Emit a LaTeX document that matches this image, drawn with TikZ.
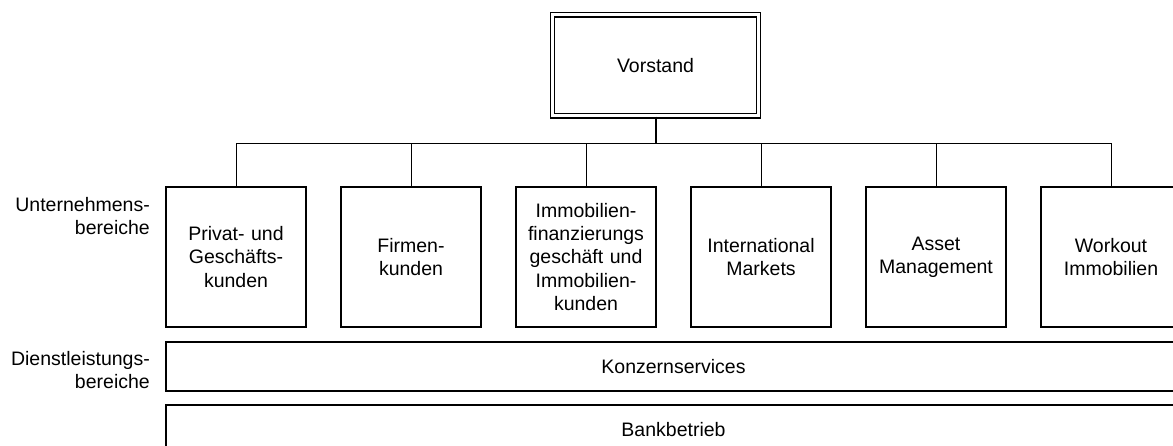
\documentclass[tikz,border=0pt]{standalone}
\usepackage{fontspec}
\setmainfont{Liberation Sans}
\begin{document}
\begin{tikzpicture}[x=1pt,y=-1pt,
  every node/.style={font=\fontsize{19.5}{23.3}\selectfont},
  unitbox/.style={draw,line width=1.2pt,minimum width=140pt,minimum height=140pt,
    inner sep=0pt,align=center,text width=136pt},
  headbox/.style={draw,double,double distance=3pt,line width=1.1pt,
    minimum width=206pt,minimum height=101pt,inner sep=0pt},
  barbox/.style={draw,line width=1.2pt,minimum width=1015pt,inner sep=0pt},
  sidelabel/.style={anchor=east,align=right,inner sep=0pt},
  link/.style={line width=1pt},
  stem/.style={line width=2pt}
]
\useasboundingbox (0,0) rectangle (1173,446);
\clip (0,0) rectangle (1173,446);

% board
\node[headbox] (vorstand) at (655.5,65.5) {Vorstand};

% business units
\node[unitbox] (pgk) at (236,257) {Privat- und\\Geschäfts-\\kunden};
\node[unitbox] (fk)  at (411,257) {Firmen-\\kunden};
\node[unitbox] (ifg) at (586,257) {Immobilien-\\finanzierungs\\geschäft und\\Immobilien-\\kunden};
\node[unitbox] (im)  at (761,257) {International\\Markets};
\node[unitbox] (am)  at (936,257) {Asset\\Management};
\node[unitbox] (wi)  at (1111,257) {Workout\\Immobilien};

% service bars
\node[barbox,minimum height=49pt] (ks) at (673.5,366.5) {Konzernservices};
\node[barbox,minimum height=50pt] (bb) at (673.5,430) {Bankbetrieb};

% row labels
\node[sidelabel] (lab1) at (150,216) {Unternehmens-\\bereiche};
\node[sidelabel] (lab2) at (150,370) {Dienstleistungs-\\bereiche};

% connectors
\coordinate (bus) at (655.5,144);
\draw[stem] (vorstand.south) -- (bus);
\foreach \u in {pgk,fk,ifg,im,am,wi}
  \draw[link] (bus) -| (\u.north);
\end{tikzpicture}
\end{document}
